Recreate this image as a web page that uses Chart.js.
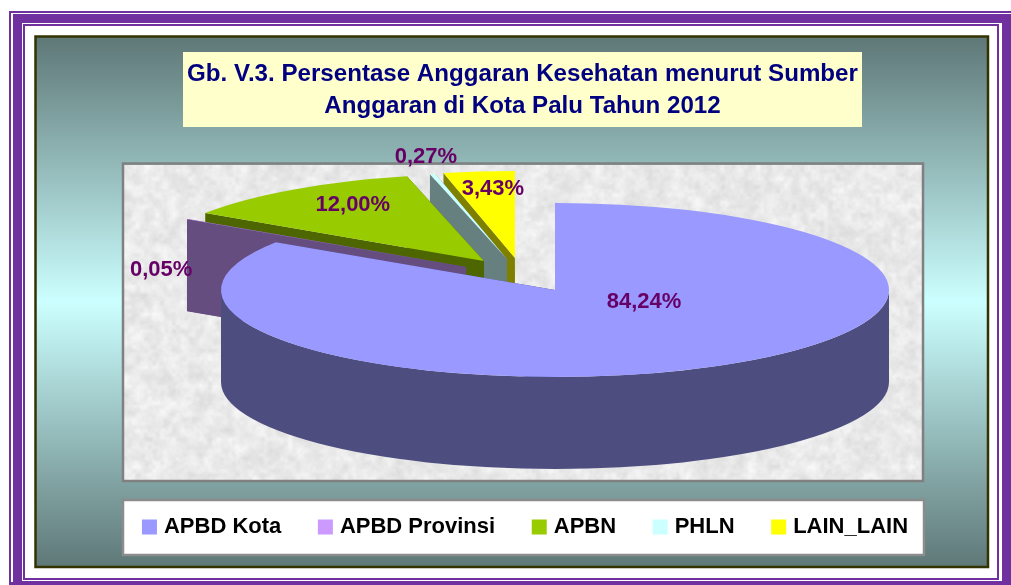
<!DOCTYPE html>
<html>
<head>
<meta charset="utf-8">
<title>Gb. V.3</title>
<script src="https://cdn.jsdelivr.net/npm/chart.js@4"></script>
<style>
    html, body { margin: 0; padding: 0; background: #fff; overflow: hidden; }
    canvas { display: block; }
</style>
</head>
<body>
<canvas id="pieChart" width="1011" height="585"></canvas>
<script>
const titleLines = [
    'Gb. V.3. Persentase Anggaran Kesehatan menurut Sumber',
    'Anggaran di Kota Palu Tahun 2012'
];
const categories = ['APBD Kota', 'APBD Provinsi', 'APBN', 'PHLN', 'LAIN_LAIN'];
const values = [84.24, 0.05, 12.00, 0.27, 3.43];

const topColors = ['#9999ff', '#cc99ff', '#99cc00', '#ccffff', '#ffff00'];
const wallColors = ['#4d4d80', '#664d80', '#4d6600', '#668080', '#808000'];

// how far each slice is pulled out, as a share of the ellipse radii
const explodeX = [0, -0.266, -0.213, -0.144, -0.120];
const explodeY = [0, -0.264, -0.333, -0.356, -0.368];
// label position relative to the slice tip, in px
const labelDx = [89, -305, -131, -81, -22];
const labelDy = [12, 3, -56, -102, -69];
// back to front
const drawOrder = [4, 3, 2, 1, 0];

const FONT = '"Liberation Sans", Arial, sans-serif';
const PIE = { x: 555, y: 290, rx: 334, ry: 87, depth: 92 };

let textureCanvas = null;

function makeTexture(w, h) {
    const out = document.createElement('canvas');
    out.width = w;
    out.height = h;
    const o = out.getContext('2d');
    o.fillStyle = '#efefef';
    o.fillRect(0, 0, w, h);
    let seed = 12345;
    function next() {
        seed = (seed * 1103515245 + 12345) & 0x7fffffff;
        return seed / 0x7fffffff;
    }
    // blotches at a few sizes, scaled up so they go soft
    [[2, 0.5], [4, 0.55], [9, 0.4]].forEach(function(layer) {
        const size = layer[0];
        const small = document.createElement('canvas');
        small.width = Math.ceil(w / size);
        small.height = Math.ceil(h / size);
        const s = small.getContext('2d');
        const img = s.createImageData(small.width, small.height);
        for (let i = 0; i < img.data.length; i += 4) {
            const g = 212 + next() * 43;
            img.data[i] = g;
            img.data[i + 1] = g;
            img.data[i + 2] = g;
            img.data[i + 3] = 255;
        }
        s.putImageData(img, 0, 0);
        o.globalAlpha = layer[1];
        o.imageSmoothingEnabled = true;
        o.drawImage(small, 0, 0, small.width * size, small.height * size);
    });
    o.globalAlpha = 1;
    return out;
}

function drawFrame(ctx) {
    const purple = '#7030a0';
    ctx.fillStyle = '#fff';
    ctx.fillRect(0, 0, 1011, 585);

    // purple double border
    ctx.fillStyle = purple;
    ctx.fillRect(9, 11, 1002, 574);
    ctx.fillStyle = '#fff';
    ctx.fillRect(11, 13, 1000, 569);
    ctx.fillStyle = purple;
    ctx.fillRect(13, 14, 998, 571);
    ctx.fillStyle = '#fff';
    ctx.fillRect(22, 23, 980, 558);
    ctx.fillStyle = purple;
    ctx.fillRect(23, 24, 976, 556);
    ctx.fillStyle = '#fff';
    ctx.fillRect(25, 26, 972, 552);

    // gradient panel
    const grad = ctx.createLinearGradient(0, 38, 0, 566);
    grad.addColorStop(0, '#5f7878');
    grad.addColorStop(0.5, '#ccffff');
    grad.addColorStop(1, '#5f7878');
    ctx.fillStyle = grad;
    ctx.fillRect(36, 37, 952, 530);
    ctx.strokeStyle = '#333300';
    ctx.lineWidth = 2.5;
    ctx.strokeRect(35.5, 36.5, 952.5, 530.5);

    // title box
    ctx.fillStyle = '#ffffcc';
    ctx.fillRect(183, 52, 679, 75);

    // plot panel
    if (!textureCanvas) textureCanvas = makeTexture(798, 315);
    ctx.drawImage(textureCanvas, 124, 165);
    ctx.strokeStyle = '#808080';
    ctx.lineWidth = 2.5;
    ctx.strokeRect(123, 163.5, 800, 317.5);

    // legend panel
    ctx.fillStyle = '#fff';
    ctx.fillRect(123, 500, 801, 55);
    ctx.strokeStyle = '#8c8c8c';
    ctx.strokeRect(123, 500, 801, 55);
}

function fillSideFace(ctx, cx, cy, angle) {
    const px = cx + PIE.rx * Math.cos(angle);
    const py = cy + PIE.ry * Math.sin(angle);
    ctx.beginPath();
    ctx.moveTo(cx, cy);
    ctx.lineTo(px, py);
    ctx.lineTo(px, py + PIE.depth);
    ctx.lineTo(cx, cy + PIE.depth);
    ctx.closePath();
    ctx.fill();
}

// only the front half of the rim (canvas angles 0 to PI) faces the viewer
function fillRim(ctx, cx, cy, startAngle, endAngle) {
    const from = Math.max(startAngle, 0);
    const to = Math.min(endAngle, Math.PI);
    if (to <= from) return;
    ctx.beginPath();
    ctx.ellipse(cx, cy, PIE.rx, PIE.ry, 0, from, to);
    ctx.ellipse(cx, cy + PIE.depth, PIE.rx, PIE.ry, 0, to, from, true);
    ctx.closePath();
    ctx.fill();
}

const pie3d = {
    id: 'pie3d',
    beforeDraw(chart) {
        drawFrame(chart.ctx);
    },
    afterLayout(chart) {
        // legend sits a little right of the title in the original
        chart.legend.left += 4.5;
        chart.legend.right += 4.5;
    },
    beforeDatasetsDraw(chart) {
        const ctx = chart.ctx;
        const arcs = chart.getDatasetMeta(0).data;

        drawOrder.forEach(function(i) {
            const arc = arcs[i];
            const cx = PIE.x + explodeX[i] * PIE.rx;
            const cy = PIE.y + explodeY[i] * PIE.ry;

            // walls: the two cut faces and the outer rim
            ctx.fillStyle = wallColors[i];
            fillSideFace(ctx, cx, cy, arc.startAngle);
            fillSideFace(ctx, cx, cy, arc.endAngle);
            fillRim(ctx, cx, cy, arc.startAngle, arc.endAngle);

            // top face, the library's own arc squashed into an ellipse
            ctx.save();
            ctx.translate(cx, cy);
            ctx.scale(PIE.rx / arc.outerRadius, PIE.ry / arc.outerRadius);
            ctx.translate(-arc.x, -arc.y);
            arc.draw(ctx);
            ctx.restore();
        });

        ctx.save();
        ctx.font = 'bold 22px ' + FONT;
        ctx.fillStyle = '#660066';
        ctx.textAlign = 'center';
        ctx.textBaseline = 'middle';
        values.forEach(function(v, i) {
            const cx = PIE.x + explodeX[i] * PIE.rx;
            const cy = PIE.y + explodeY[i] * PIE.ry;
            const text = v.toFixed(2).replace('.', ',') + '%';
            ctx.fillText(text, cx + labelDx[i], cy + labelDy[i]);
        });
        ctx.restore();
        return false;
    }
};

const ctx = document.getElementById('pieChart').getContext('2d');
new Chart(ctx, {
    type: 'pie',
    data: {
        labels: categories,
        datasets: [{
            data: values,
            backgroundColor: topColors,
            borderWidth: 0
        }]
    },
    options: {
        responsive: false,
        animation: false,
        layout: { padding: { left: 34, right: 0, top: 0, bottom: 37 } },
        plugins: {
            title: {
                display: true,
                text: titleLines,
                color: '#000080',
                font: { family: FONT, size: 24.14, weight: 'bold', lineHeight: 1.325 },
                padding: { top: 58, bottom: 10 }
            },
            legend: {
                display: true,
                position: 'bottom',
                labels: {
                    color: '#000',
                    font: { family: FONT, size: 22, weight: 'bold' },
                    boxWidth: 7,
                    boxHeight: 7,
                    padding: 40.6,
                    // thick outline gives a square box sitting close to the text
                    generateLabels: function(chart) {
                        return chart.data.labels.map(function(label, i) {
                            return {
                                text: label,
                                fillStyle: topColors[i],
                                strokeStyle: topColors[i],
                                fontColor: '#000',
                                lineWidth: 8,
                                hidden: false,
                                index: i
                            };
                        });
                    }
                }
            },
            tooltip: { enabled: false }
        }
    },
    plugins: [pie3d]
});
</script>
</body>
</html>
